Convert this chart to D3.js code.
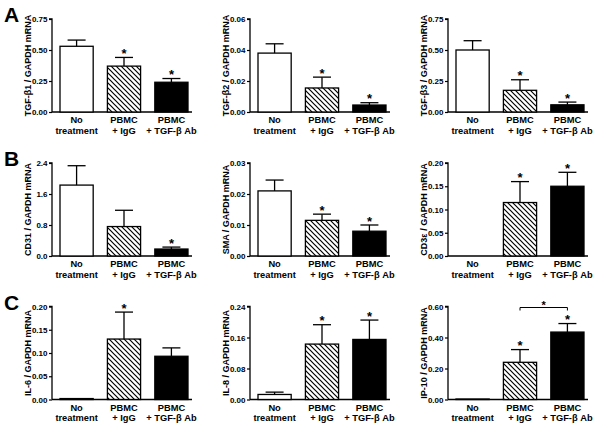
<!DOCTYPE html>
<html>
<head>
<meta charset="utf-8">
<script src="https://cdn.jsdelivr.net/npm/d3@7"></script>
<style>
  body { margin: 0; background: #fff; }
  svg { display: block; font-family: "Liberation Sans", Arial, sans-serif; }
  text { font-weight: bold; fill: #000; }
</style>
</head>
<body>
<svg id="chart" width="600" height="429"></svg>
<script>
// ---------- data ----------
const categories = [["No", "treatment"], ["PBMC", "+ IgG"], ["PBMC", "+ TGF-\u03B2 Ab"]];
const fills = ["white", "hatch", "black"];

const yTitles = [
  "TGF-\u03B21 / GAPDH mRNA", "TGF-\u03B22 / GAPDH mRNA", "TGF-\u03B23 / GAPDH mRNA",
  "CD31 / GAPDH mRNA", "SMA / GAPDH mRNA", "CD3\u03B5 / GAPDH mRNA",
  "IL-6 / GAPDH mRNA", "IL-8 / GAPDH mRNA", "IP-10 / GAPDH mRNA"
];

const tgfb1Mean = [0.53, 0.37, 0.24],   tgfb1Sem = [0.05, 0.07, 0.03];
const tgfb2Mean = [0.038, 0.0155, 0.0045], tgfb2Sem = [0.006, 0.007, 0.0015];
const tgfb3Mean = [0.50, 0.175, 0.058], tgfb3Sem = [0.075, 0.085, 0.022];
const cd31Mean  = [1.83, 0.76, 0.18],   cd31Sem  = [0.50, 0.42, 0.05];
const smaMean   = [0.021, 0.0115, 0.008], smaSem = [0.0035, 0.002, 0.002];
const cd3eMean  = [0, 0.115, 0.150],    cd3eSem  = [0, 0.045, 0.030];
const il6Mean   = [0.002, 0.130, 0.093], il6Sem  = [0, 0.058, 0.018];
const il8Mean   = [0.013, 0.143, 0.155], il8Sem  = [0.006, 0.050, 0.050];
const ip10Mean  = [0.003, 0.240, 0.435], ip10Sem = [0, 0.082, 0.055];

const means = [tgfb1Mean, tgfb2Mean, tgfb3Mean, cd31Mean, smaMean, cd3eMean, il6Mean, il8Mean, ip10Mean];
const sems  = [tgfb1Sem, tgfb2Sem, tgfb3Sem, cd31Sem, smaSem, cd3eSem, il6Sem, il8Sem, ip10Sem];

const tgfb1Ticks = ["0.00", "0.25", "0.50", "0.75"];
const tgfb2Ticks = ["0.00", "0.02", "0.04", "0.06"];
const tgfb3Ticks = ["0.00", "0.25", "0.50", "0.75"];
const cd31Ticks  = ["0.0", "0.8", "1.6", "2.4"];
const smaTicks   = ["0.00", "0.01", "0.02", "0.03"];
const cd3eTicks  = ["0.00", "0.05", "0.10", "0.15", "0.20"];
const il6Ticks   = ["0.00", "0.05", "0.10", "0.15", "0.20"];
const il8Ticks   = ["0.00", "0.08", "0.16", "0.24"];
const ip10Ticks  = ["0.00", "0.20", "0.40", "0.60"];
const tickLabels = [tgfb1Ticks, tgfb2Ticks, tgfb3Ticks, cd31Ticks, smaTicks, cd3eTicks, il6Ticks, il8Ticks, ip10Ticks];

// significance stars (per bar)
const stars = [
  [false, true, true], [false, true, true], [false, true, true],
  [false, false, true], [false, true, true], [false, true, true],
  [false, true, false], [false, true, true], [false, true, true]
];
const rowLetters = ["A", "B", "C"];

// ---------- layout ----------
const axisXs = [52, 250, 448];
const rowTops = [19, 163, 306.5];
const plotH = 93;

const svg = d3.select("#chart");
const defs = svg.append("defs");
const pat = defs.append("pattern")
  .attr("id", "hatch").attr("patternUnits", "userSpaceOnUse")
  .attr("width", 5).attr("height", 5);
pat.append("rect").attr("width", 5).attr("height", 5).attr("fill", "white");
pat.append("path").attr("d", "M0,0 L5,5 M-1,4 L1,6 M4,-1 L6,1")
  .attr("stroke", "black").attr("stroke-width", 1.2);

rowLetters.forEach((L, r) => {
  svg.append("text").attr("x", 4).attr("y", rowTops[r] + 3)
    .attr("font-size", 21).text(L);
});

for (let p = 0; p < 9; p++) {
  const r = Math.floor(p / 3), c = p % 3;
  const ax = axisXs[c], top = rowTops[r], base = top + plotH;
  const ticks = tickLabels[p].map(Number);
  const yMax = ticks[ticks.length - 1];
  const y = d3.scaleLinear().domain([0, yMax]).range([base, top]);
  const x = d3.scaleBand().domain([0, 1, 2]).range([ax + 8, ax + 136]).paddingInner(0.3).paddingOuter(0);
  const g = svg.append("g");

  // y axis
  const yAxis = d3.axisLeft(y).tickValues(ticks).tickSize(3).tickPadding(1.5)
    .tickFormat((d, i) => tickLabels[p][i]);
  const ya = g.append("g").attr("transform", `translate(${ax},0)`).call(yAxis);
  ya.select(".domain").attr("stroke-width", 1.3).attr("d", `M-3,${top}H0V${base}`);
  ya.selectAll(".tick line").attr("stroke-width", 1.2);
  ya.selectAll(".tick text").attr("font-size", 8).attr("font-weight", "bold")
    .attr("font-family", "Liberation Sans, Arial, sans-serif");

  // x axis line
  g.append("line").attr("x1", ax).attr("x2", ax + 140).attr("y1", base).attr("y2", base)
    .attr("stroke", "black").attr("stroke-width", 1.3);

  // y title
  g.append("text")
    .attr("transform", `translate(${ax - 24},${(top + base) / 2}) rotate(-90)`)
    .attr("text-anchor", "middle").attr("dominant-baseline", "central")
    .attr("font-size", 9).text(yTitles[p]);

  // bars
  means[p].forEach((m, i) => {
    const fill = fills[i] === "hatch" ? "url(#hatch)" : fills[i];
    g.append("rect")
      .attr("x", x(i)).attr("width", x.bandwidth())
      .attr("y", y(m)).attr("height", base - y(m))
      .attr("fill", fill).attr("stroke", "black").attr("stroke-width", 1.3);
    const s = sems[p][i];
    const cx = x(i) + x.bandwidth() / 2;
    if (s > 0) {
      g.append("line").attr("x1", cx).attr("x2", cx).attr("y1", y(m)).attr("y2", y(m + s))
        .attr("stroke", "black").attr("stroke-width", 1.3);
      g.append("line").attr("x1", cx - 9).attr("x2", cx + 9).attr("y1", y(m + s)).attr("y2", y(m + s))
        .attr("stroke", "black").attr("stroke-width", 1.3);
    }
    if (stars[p][i]) {
      g.append("text").attr("x", cx).attr("y", y(m + s) + 0.5)
        .attr("text-anchor", "middle").attr("font-size", 13).text("*");
    }
    // category labels
    categories[i].forEach((t, k) => {
      g.append("text").attr("x", cx).attr("y", base + 11 + k * 10.5)
        .attr("text-anchor", "middle").attr("font-size", 9.3).text(t);
    });
  });

  // bracket for IP-10 (IgG vs TGF-b Ab)
  if (p === 8) {
    const x1 = x(1) + x.bandwidth() / 2, x2 = x(2) + x.bandwidth() / 2;
    const by = top + 1;
    g.append("path").attr("d", `M${x1},${by + 3}V${by}H${x2}V${by + 3}`)
      .attr("fill", "none").attr("stroke", "black").attr("stroke-width", 1);
    g.append("text").attr("x", (x1 + x2) / 2).attr("y", by + 1.5)
      .attr("text-anchor", "middle").attr("font-size", 11).text("*");
  }
}
</script>
</body>
</html>
